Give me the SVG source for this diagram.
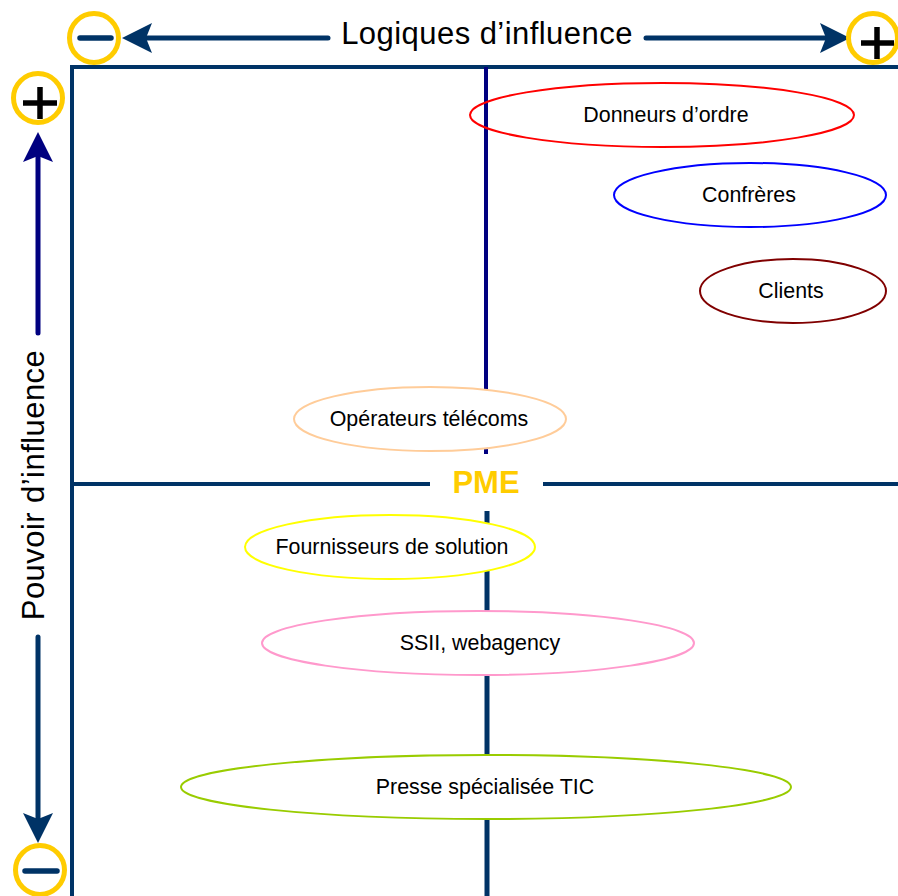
<svg xmlns="http://www.w3.org/2000/svg" width="898" height="896" viewBox="0 0 898 896">
<style>
.axis{stroke:#003366;stroke-width:4;fill:none}
.navy{stroke:#000080}
.arrow{stroke-width:5;stroke-linecap:round;fill:none}
.ring{fill:none;stroke:#FFCC00;stroke-width:5}
.sign{stroke-width:5.5;stroke-linecap:round}
.node ellipse{stroke-width:2}
.lbl{font-family:"Liberation Sans",Arial,sans-serif;font-size:21.4px;fill:#000;text-anchor:middle}
.title{font-family:"Liberation Sans",Arial,sans-serif;font-size:31px;letter-spacing:0.45px;fill:#000;text-anchor:middle}
</style>
<defs>
<marker id="headBlue" viewBox="0 0 30 30" refX="6" refY="15" markerWidth="30" markerHeight="30" markerUnits="userSpaceOnUse" orient="auto">
<path d="M0,0 L30,15 L0,30 L6,15 Z" fill="#003366"/>
</marker>
<marker id="headNavy" viewBox="0 0 30 30" refX="6" refY="15" markerWidth="30" markerHeight="30" markerUnits="userSpaceOnUse" orient="auto">
<path d="M0,0 L30,15 L0,30 L6,15 Z" fill="#000080"/>
</marker>
</defs>
<rect width="898" height="896" fill="#fff"/>

<g id="grid">
<line class="axis" x1="72" y1="67" x2="898" y2="67"/>
<line class="axis" x1="72" y1="65" x2="72" y2="896"/>
<line class="axis" x1="70" y1="484" x2="898" y2="484"/>
<line class="axis navy" x1="486" y1="67" x2="486" y2="484"/>
<line class="axis" x1="487" y1="484" x2="487" y2="896" style="stroke-width:5"/>
</g>

<g id="connectors">
<line class="arrow" stroke="#003366" x1="328" y1="38" x2="146" y2="38" marker-end="url(#headBlue)"/>
<line class="arrow" stroke="#003366" x1="646" y1="38" x2="826" y2="38" marker-end="url(#headBlue)"/>
<line class="arrow" stroke="#000080" x1="38" y1="333" x2="38" y2="156" marker-end="url(#headNavy)"/>
<line class="arrow" stroke="#003366" x1="38" y1="637" x2="38" y2="819" marker-end="url(#headBlue)"/>
</g>

<g id="title-x">
<text class="title" x="487" y="44">Logiques d’influence</text>
</g>
<g id="title-y">
<text class="title" transform="translate(44,485) rotate(-90)" x="0" y="0">Pouvoir d’influence</text>
</g>

<g id="minus-x">
<circle class="ring" cx="94" cy="38" r="24.5"/>
<line class="sign" stroke="#003366" x1="80" y1="38" x2="111" y2="38"/>
</g>
<g id="plus-x">
<circle class="ring" cx="873" cy="38" r="24.5"/>
<line class="sign" stroke="#000" x1="861" y1="43" x2="894" y2="43" style="stroke-linecap:butt"/>
<line class="sign" stroke="#000" x1="877" y1="27" x2="877" y2="59" style="stroke-linecap:butt"/>
</g>
<g id="plus-y">
<circle class="ring" cx="38" cy="98" r="24.5"/>
<line class="sign" stroke="#000" x1="23" y1="103" x2="57" y2="103" style="stroke-linecap:butt"/>
<line class="sign" stroke="#000" x1="40" y1="87" x2="40" y2="119" style="stroke-linecap:butt"/>
</g>
<g id="minus-y">
<circle class="ring" cx="40" cy="870" r="24.5"/>
<line class="sign" stroke="#003366" x1="25" y1="871" x2="57" y2="871"/>
</g>

<g id="pme">
<rect x="430" y="454" width="113" height="57" fill="#fff"/>
<text x="486" y="493" font-family="'Liberation Sans',Arial,sans-serif" font-size="31" font-weight="bold" fill="#FFCC00" text-anchor="middle">PME</text>
</g>

<g id="donneurs" class="node">
<ellipse cx="662" cy="115" rx="192" ry="32" fill="none" stroke="#FF0000"/>
<text class="lbl" x="666" y="122">Donneurs d’ordre</text>
</g>
<g id="confreres" class="node">
<ellipse cx="750" cy="195" rx="136" ry="32" fill="#fff" stroke="#0000FF"/>
<text class="lbl" x="749" y="202">Confrères</text>
</g>
<g id="clients" class="node">
<ellipse cx="793" cy="291" rx="93" ry="32" fill="#fff" stroke="#800000"/>
<text class="lbl" x="791" y="298">Clients</text>
</g>
<g id="operateurs" class="node">
<ellipse cx="430" cy="419" rx="136" ry="32" fill="#fff" stroke="#FFCC99"/>
<text class="lbl" x="429" y="426">Opérateurs télécoms</text>
</g>
<g id="fournisseurs" class="node">
<ellipse cx="390" cy="547" rx="145" ry="32" fill="#fff" stroke="#FFFF00"/>
<text class="lbl" x="392" y="554">Fournisseurs de solution</text>
</g>
<g id="ssii" class="node">
<ellipse cx="478" cy="643" rx="216" ry="32" fill="#fff" stroke="#FF99CC"/>
<text class="lbl" x="480" y="650">SSII, webagency</text>
</g>
<g id="presse" class="node">
<ellipse cx="486" cy="787" rx="305" ry="32" fill="#fff" stroke="#99CC00"/>
<text class="lbl" x="485" y="794">Presse spécialisée TIC</text>
</g>
</svg>
